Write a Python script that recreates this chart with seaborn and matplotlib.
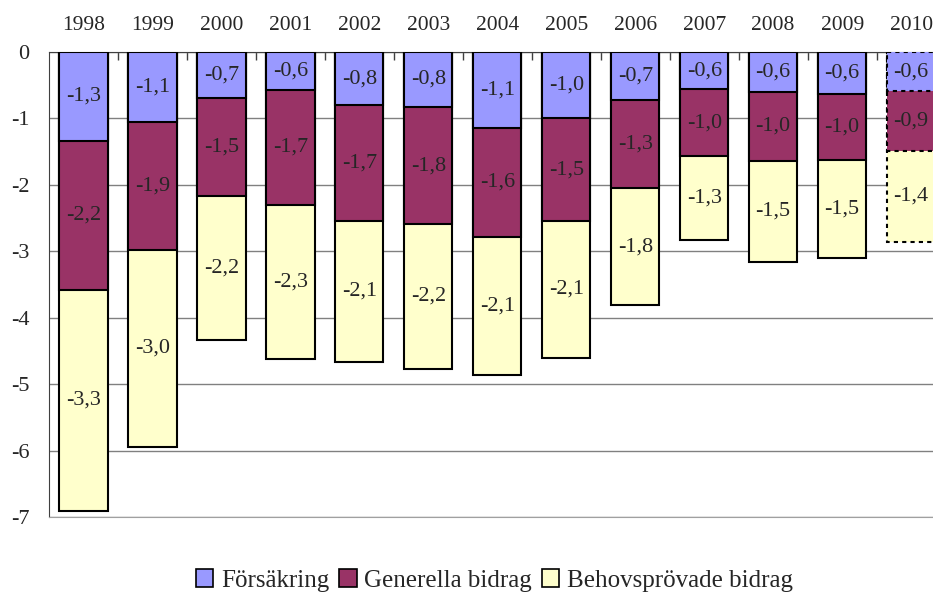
import matplotlib
matplotlib.use("Agg")
import matplotlib.pyplot as plt
import seaborn as sns
import numpy as np
import pandas as pd
from matplotlib.patches import Patch
from matplotlib.ticker import FixedLocator

# data (negative contributions)
years = ["1998", "1999", "2000", "2001", "2002", "2003", "2004",
         "2005", "2006", "2007", "2008", "2009", "2010"]
forsakring = [1.34, 1.06, 0.69, 0.57, 0.80, 0.83, 1.14, 1.00, 0.72, 0.56, 0.60, 0.64, 0.59]
generella = [2.24, 1.92, 1.48, 1.73, 1.74, 1.76, 1.64, 1.54, 1.33, 1.01, 1.04, 0.98, 0.90]
behovsprovade = [3.33, 2.96, 2.16, 2.32, 2.13, 2.18, 2.09, 2.06, 1.76, 1.26, 1.52, 1.48, 1.37]
series_names = ["Försäkring", "Generella bidrag", "Behovsprövade bidrag"]
colors = ["#9999FF", "#993366", "#FFFFCC"]

sns.set_style("white")
plt.rcParams["font.family"] = ["Liberation Serif", "DejaVu Serif"]

f = -np.array(forsakring)
g = -np.array(generella)
b = -np.array(behovsprovade)
df = pd.DataFrame({"year": years, "s1": f, "s2": f + g, "s3": f + g + b})

fig = plt.figure(figsize=(9.33, 5.92), dpi=100)
ax = fig.add_axes([0.0525, 0.1267, 0.961, 0.7855])

# largest cumulative first, so smaller ones overlay on top
for col, c in zip(["s3", "s2", "s1"], colors[::-1]):
    sns.barplot(data=df, x="year", y=col, color=c, width=0.7,
                edgecolor="black", linewidth=1.5, saturation=1, ax=ax, zorder=3)

# dotted outline for 2010
for p in ax.patches:
    if abs(p.get_x() + p.get_width() / 2 - 12) < 0.01:
        p.set_linestyle((0, (2, 2)))

# value labels in the middle of each segment
for i in range(len(years)):
    segs = [(0, f[i]), (f[i], f[i] + g[i]), (f[i] + g[i], f[i] + g[i] + b[i])]
    vals = [f[i], g[i], b[i]]
    for (top, bot), v in zip(segs, vals):
        ax.text(i, (top + bot) / 2, f"{v:.1f}".replace(".", ","),
                ha="center", va="center", fontsize=16, zorder=5)

ax.set_ylim(-7, 0)
ax.set_xlim(-0.5, 12.5)
ax.set_yticks(range(-7, 1))
ax.set_yticklabels([str(v) for v in range(-7, 1)], fontsize=16)
ax.yaxis.grid(True, color="#808080", linewidth=1, zorder=0)
ax.set_axisbelow(True)
ax.set_xlabel("")
ax.set_ylabel("")

ax.xaxis.tick_top()
ax.tick_params(axis="x", which="major", length=0, labelsize=15.5, pad=12)
ax.xaxis.set_minor_locator(FixedLocator(np.arange(0.5, 12, 1)))
ax.tick_params(axis="x", which="minor", direction="in", length=6, width=1, color="#404040")
ax.tick_params(axis="y", direction="out", length=6, width=1, color="#404040", pad=8)

for s in ["left", "top"]:
    ax.spines[s].set_color("#404040")
ax.spines["bottom"].set_color("#a0a0a0")
ax.spines["right"].set_visible(False)

handles = [Patch(facecolor=c, edgecolor="black", linewidth=1.2) for c in colors]
fig.legend(handles, series_names, loc="lower center", bbox_to_anchor=(0.53, -0.038),
           ncol=3, frameon=False, fontsize=18, handlelength=0.7, handleheight=0.7,
           handletextpad=0.3, columnspacing=0.4)

fig.savefig("out.png", dpi=100)
